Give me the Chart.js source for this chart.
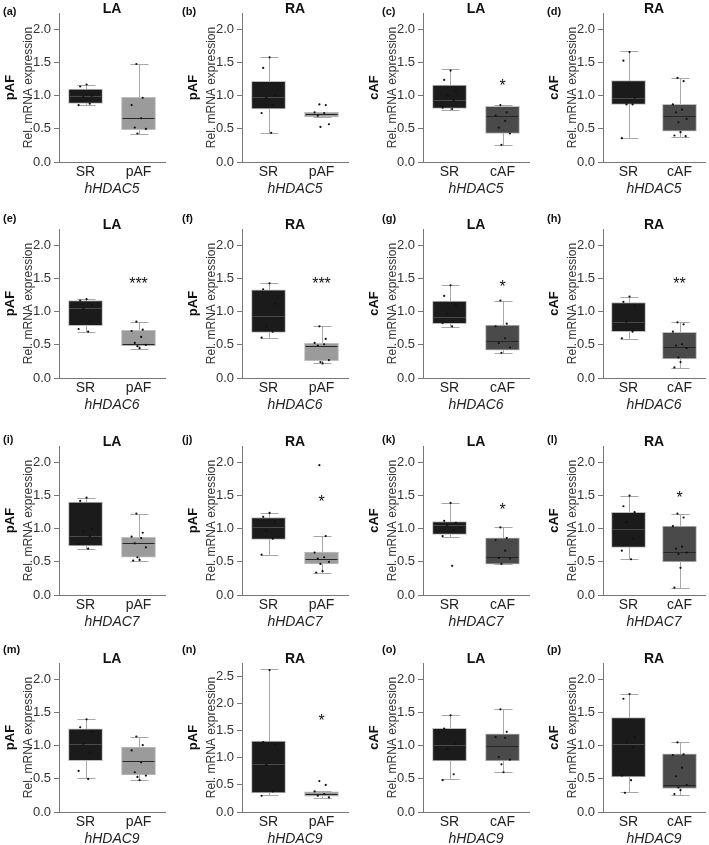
<!DOCTYPE html>
<html>
<head>
<meta charset="utf-8">
<script src="https://cdn.jsdelivr.net/npm/chart.js@4.4.1/dist/chart.umd.min.js"></script>
<style>
  body { margin: 0; background: #fff; }
  #fig { position: relative; width: 709px; height: 845px; overflow: hidden; }
  #fig canvas { position: absolute; }
</style>
</head>
<body>
<div id="fig"></div>
<script>
// ---- data ----
const letters = ["a","b","c","d","e","f","g","h","i","j","k","l","m","n","o","p"];
const regions = ["LA","RA","LA","RA"];           // per column
const conditions = ["pAF","pAF","cAF","cAF"];    // per column
const genes = ["hHDAC5","hHDAC6","hHDAC7","hHDAC9"]; // per row
const yTicksStd = [0, 0.5, 1.0, 1.5, 2.0];
const yTicksWide = [0, 0.5, 1.0, 1.5, 2.0, 2.5];
const yMax = [2.25,2.25,2.25,2.25, 2.25,2.25,2.25,2.25, 2.25,2.25,2.25,2.25, 2.25,2.75,2.25,2.25];

// [SR, AF] per panel
const whiskerLow = [[0.86,0.43],[0.44,0.68],[0.79,0.26],[0.36,0.385],
  [0.69,0.44],[0.60,0.22],[0.77,0.37],[0.59,0.15],
  [0.69,0.515],[0.61,0.335],[0.875,0.465],[0.54,0.11],
  [0.51,0.48],[0.307,0.25],[0.496,0.60],[0.30,0.26]];
const q1 = [[0.886,0.49],[0.80,0.68],[0.81,0.43],[0.87,0.465],
  [0.79,0.485],[0.69,0.26],[0.82,0.42],[0.70,0.29],
  [0.74,0.57],[0.84,0.47],[0.915,0.465],[0.72,0.50],
  [0.775,0.56],[0.35,0.29],[0.77,0.77],[0.53,0.355]];
const median = [[1.0,0.66],[0.975,0.72],[0.935,0.70],[0.96,0.69],
  [1.06,0.52],[0.94,0.49],[0.92,0.565],[0.85,0.475],
  [0.89,0.785],[1.03,0.545],[1.06,0.57],[1.0,0.65],
  [1.03,0.775],[0.88,0.34],[1.007,0.99],[1.027,0.41]];
const q3 = [[1.10,0.975],[1.22,0.75],[1.16,0.84],[1.23,0.87],
  [1.17,0.72],[1.33,0.525],[1.16,0.80],[1.14,0.69],
  [1.405,0.87],[1.17,0.65],[1.11,0.865],[1.25,1.04],
  [1.255,0.98],[1.307,0.37],[1.265,1.18],[1.425,0.88]];
const whiskerHigh = [[1.17,1.48],[1.58,0.75],[1.40,0.86],[1.67,1.27],
  [1.19,0.85],[1.43,0.78],[1.41,1.17],[1.23,0.84],
  [1.47,1.23],[1.24,0.895],[1.395,1.02],[1.50,1.23],
  [1.41,1.14],[2.645,0.39],[1.47,1.55],[1.78,1.06]];
const points = [
  [[1.17,1.14,1.0,0.98,0.88,0.86],[1.48,0.97,0.86,0.66,0.52,0.50,0.43]],
  [[1.58,1.42,1.0,0.97,0.86,0.74,0.44],[0.87,0.86,0.75,0.74,0.70,0.57,0.53]],
  [[1.38,1.24,1.08,1.0,0.93,0.82,0.80],[0.86,0.75,0.70,0.62,0.52,0.43,0.26]],
  [[1.66,1.53,0.97,0.87,0.87,0.36],[1.27,1.22,0.87,0.79,0.75,0.65,0.60,0.45,0.40,0.39]],
  [[1.19,1.17,1.10,1.05,0.85,0.74,0.70],[0.85,0.73,0.71,0.62,0.53,0.50,0.48,0.45]],
  [[1.43,1.34,1.12,0.78,0.70,0.61],[0.78,0.59,0.53,0.51,0.49,0.27,0.24,0.22]],
  [[1.40,1.24,1.10,0.97,0.86,0.83,0.78],[1.17,0.82,0.78,0.60,0.53,0.46,0.38]],
  [[1.23,1.15,1.09,0.85,0.70,0.60],[0.84,0.81,0.70,0.51,0.49,0.45,0.31,0.24,0.16]],
  [[1.47,1.42,1.0,0.96,0.89,0.77,0.70],[1.23,0.94,0.88,0.86,0.78,0.72,0.57,0.53,0.52]],
  [[1.24,1.18,1.11,0.97,0.85,0.61],[1.96,0.89,0.64,0.57,0.55,0.50,0.47,0.36,0.34]],
  [[1.39,1.12,1.09,1.05,0.98,0.89,0.44],[1.02,0.86,0.83,0.67,0.56,0.55,0.47]],
  [[1.50,1.34,1.25,1.10,0.85,0.67,0.54],[1.23,1.17,1.04,0.73,0.70,0.64,0.62,0.41,0.11]],
  [[1.40,1.28,1.21,1.03,0.90,0.62,0.50],[1.14,1.01,0.93,0.75,0.60,0.55,0.53,0.48]],
  [[2.62,1.29,1.25,0.87,0.38,0.30],[0.57,0.50,0.38,0.33,0.30,0.27]],
  [[1.46,1.26,1.03,0.95,0.57,0.48],[1.55,1.21,1.13,1.12,0.83,0.79,0.72,0.60]],
  [[1.78,1.71,1.13,1.05,0.98,0.55,0.48,0.29],[1.05,0.87,0.86,0.67,0.54,0.41,0.37,0.33,0.27]]
];
const stars = ["","","*","","***","***","*","**","","*","*","*","","*","",""];
const starY = [null,null,1.21,null,1.475,1.485,1.43,1.475,null,1.47,1.35,1.52,null,1.75,null,null];

// ---- layout / style ----
const colLeft = [-1, 182, 363, 543];
const colWidth = [180, 180, 180, 166];
const rowTop = [0, 216, 433, 650];
const letterX = [4, 0, 19, 4];
const letterY = [21.5, 13, 17, 9.5];
const srColor = "#1b1b1b";
const afColor = { pAF: "#9b9b9b", cAF: "#4a4a4a" };
const jitter = [0.02, -0.1, 0.12, -0.04, 0.08, -0.13, 0.05, -0.07, 0.14, -0.02];

Chart.defaults.font.family = "'Liberation Sans', Arial, sans-serif";
Chart.defaults.color = "#222";

const boxExtras = {
  id: "boxExtras",
  beforeDatasetsDraw(chart, args, o) {
    const ctx = chart.ctx, xs = chart.scales.x, ys = chart.scales.y;
    ctx.save();
    ctx.strokeStyle = "#a8a8a8";
    ctx.lineWidth = 1;
    [0, 1].forEach(function (g) {
      const px = Math.round(xs.getPixelForValue(g)) + 0.5;
      const lo = Math.round(ys.getPixelForValue(o.low[g])) + 0.5;
      const hi = Math.round(ys.getPixelForValue(o.high[g])) + 0.5;
      ctx.beginPath();
      ctx.moveTo(px, lo); ctx.lineTo(px, hi);
      ctx.moveTo(px - 9, lo); ctx.lineTo(px + 9, lo);
      ctx.moveTo(px - 9, hi); ctx.lineTo(px + 9, hi);
      ctx.stroke();
    });
    ctx.restore();
  },
  afterDatasetDraw(chart, args, o) {
    if (args.index !== 0) return;
    const ctx = chart.ctx, ys = chart.scales.y;
    ctx.save();
    ctx.lineWidth = 1;
    chart.getDatasetMeta(0).data.forEach(function (bar, g) {
      const py = Math.round(ys.getPixelForValue(o.median[g])) + 0.5;
      ctx.strokeStyle = g === 0 ? "#4a4a4a" : "#262626";
      ctx.beginPath();
      ctx.moveTo(bar.x - bar.width / 2 + 1, py);
      ctx.lineTo(bar.x + bar.width / 2 - 1, py);
      ctx.stroke();
    });
    ctx.restore();
  },
  afterDraw(chart, args, o) {
    const ctx = chart.ctx;
    ctx.save();
    ctx.fillStyle = "#111";
    ctx.font = "bold 11px 'Liberation Sans', Arial, sans-serif";
    ctx.textAlign = "left";
    ctx.textBaseline = "middle";
    ctx.fillText("(" + o.letter + ")", o.lx, o.ly);
    if (o.star) {
      ctx.font = "16px 'Liberation Sans', Arial, sans-serif";
      ctx.textAlign = "center";
      ctx.textBaseline = "alphabetic";
      ctx.fillText(o.star, chart.scales.x.getPixelForValue(1), chart.scales.y.getPixelForValue(o.starY) + 9);
    }
    ctx.restore();
  }
};

const fig = document.getElementById("fig");

letters.forEach(function (letter, p) {
  const row = Math.floor(p / 4), col = p % 4;
  const cond = conditions[col];
  const groupLabels = ["SR", cond];
  const canvas = document.createElement("canvas");
  canvas.width = colWidth[col];
  canvas.height = 227;
  canvas.style.left = colLeft[col] + "px";
  canvas.style.top = (rowTop[row] - 10) + "px";
  fig.appendChild(canvas);
  const ticks = yMax[p] > 2.5 ? yTicksWide : yTicksStd;

  new Chart(canvas.getContext("2d"), {
    type: "bar",
    data: {
      datasets: [
        {
          // box from first to third quartile
          data: [0, 1].map(function (g) { return { x: g, y: [q1[p][g], q3[p][g]] }; }),
          backgroundColor: [srColor, afColor[cond]],
          borderColor: "#bdbdbd",
          borderWidth: 1,
          borderSkipped: false,
          barThickness: 34,
          grouped: false,
          order: 2
        },
        {
          type: "scatter",
          data: points[p][0].map(function (v, i) { return { x: 0 + jitter[i % jitter.length], y: v }; })
            .concat(points[p][1].map(function (v, i) { return { x: 1 + jitter[(i + 3) % jitter.length], y: v }; })),
          pointRadius: 1.1,
          pointBackgroundColor: "#111",
          pointBorderWidth: 0,
          order: 1
        }
      ]
    },
    options: {
      responsive: false,
      animation: false,
      devicePixelRatio: 1,
      layout: { padding: { top: 10, left: 0, right: colWidth[col] - 166, bottom: 17 } },
      plugins: {
        legend: { display: false },
        tooltip: { enabled: false },
        title: {
          display: true,
          text: regions[col],
          fullSize: false,
          color: "#111",
          font: { size: 14, weight: "bold", lineHeight: 1 },
          padding: { top: 2.5, bottom: -3.5 }
        },
        boxExtras: {
          low: whiskerLow[p], high: whiskerHigh[p], median: median[p],
          star: stars[p], starY: starY[p],
          letter: letter, lx: letterX[col], ly: letterY[row]
        }
      },
      scales: {
        x: {
          type: "linear",
          min: -0.5,
          max: 1.5,
          bounds: "data",
          offset: false,
          afterBuildTicks: function (s) { s.ticks = [{ value: 0 }, { value: 1 }]; },
          grid: { display: false, drawTicks: false },
          border: { display: true, color: "#777", width: 1 },
          ticks: {
            font: { size: 14, lineHeight: 1 }, color: "#222", padding: 3, autoSkip: false, maxRotation: 0,
            callback: function (v) { return groupLabels[v]; }
          },
          title: {
            display: true, text: genes[row], color: "#222",
            font: { size: 14, style: "italic", lineHeight: 1 },
            padding: { top: 0, bottom: 4 }
          }
        },
        y: {
          min: 0,
          max: yMax[p],
          bounds: "data",
          afterBuildTicks: function (s) { s.ticks = ticks.map(function (v) { return { value: v }; }); },
          ticks: {
            font: { size: 13 }, color: "#333", padding: 3,
            callback: function (v) { return Number(v).toFixed(1); }
          },
          grid: { display: true, drawOnChartArea: false, tickLength: 5, color: "#777" },
          border: { display: true, color: "#777", width: 1 },
          title: {
            display: true, text: "Rel. mRNA expression", color: "#333",
            font: { size: 12, lineHeight: 1.2 }, padding: { top: 4, bottom: 0 }
          },
          afterFit: function (s) { s.width = 42; }
        },
        y2: {
          type: "linear",
          position: "left",
          weight: 1,
          ticks: { display: false },
          grid: { display: false, drawTicks: false },
          border: { display: false },
          title: {
            display: true, text: cond, color: "#111",
            font: { size: 13, weight: "bold", lineHeight: 1.2 }, padding: { top: 4, bottom: 0 }
          },
          afterFit: function (s) { s.width = 18; }
        }
      }
    },
    plugins: [boxExtras]
  });
});
</script>
</body>
</html>
